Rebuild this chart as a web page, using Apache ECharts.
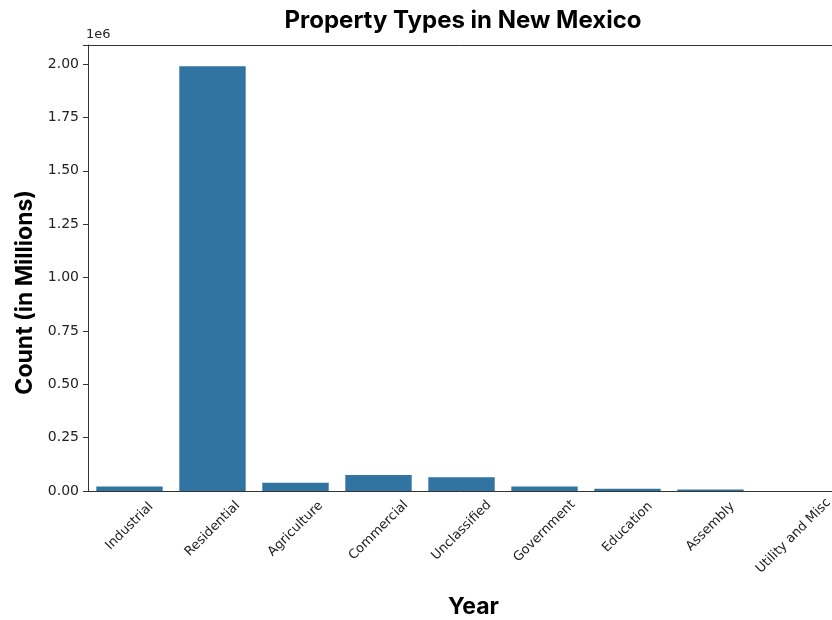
<!DOCTYPE html>
<html>
<head>
<meta charset="utf-8">
<script src="https://cdn.jsdelivr.net/npm/echarts@6/dist/echarts.min.js"></script>
<style>
  html, body { margin: 0; padding: 0; background: #fff; }
  #main { width: 832px; height: 620px; }
</style>
</head>
<body>
<div id="main"></div>
<script>
// property types and counts
var categories = ['Industrial', 'Residential', 'Agriculture', 'Commercial', 'Unclassified',
	'Government', 'Education', 'Assembly', 'Utility and Misc'];
var counts = [21000, 1990000, 39000, 75000, 64000, 21000, 11000, 6500, 500];
var yTicks = [0, 250000, 500000, 750000, 1000000, 1250000, 1500000, 1750000, 2000000];

var labelFont = '13px "DejaVu Sans"';

// matplotlib centres each rotated tick label under its tick; echarts anchors the
// label end, so push each label down/left with padding worked out from its width
function labelPads() {
	var ctx = document.createElement('canvas').getContext('2d');
	ctx.font = labelFont;
	var rich = {};
	for (var i = 0; i < categories.length; i++) {
		var w = ctx.measureText(categories[i]).width;
		var d = 10 + 0.25 * w;
		var p = Math.SQRT2 * d;
		rich['p' + i] = { padding: [p, p, 0, 0], fontFamily: 'DejaVu Sans', fontSize: 13, color: '#222' };
	}
	return rich;
}

var chart = echarts.init(document.getElementById('main'));

var option = {
	backgroundColor: '#fff',
	animation: false,
	title: {
		text: 'Property Types in New Mexico',
		left: 458,
		textAlign: 'center',
		top: 4,
		textStyle: { fontFamily: 'Inter', fontWeight: 'bold', fontSize: 24, color: '#000' }
	},
	grid: { left: 88, top: 45, right: -3, bottom: 129, containLabel: false, outerBoundsMode: 'none' },
	xAxis: [{
		type: 'category',
		data: categories,
		name: 'Year',
		nameLocation: 'middle',
		nameGap: 105,
		nameTextStyle: { fontFamily: 'Inter', fontWeight: 'bold', fontSize: 23, color: '#000', padding: [0, 0, 0, 24] },
		axisLine: { lineStyle: { color: '#333', width: 1 } },
		axisTick: { alignWithLabel: true, length: 4, lineStyle: { color: '#333' } },
		axisLabel: {
			rotate: 45, interval: 0, margin: 10,
			align: 'center', verticalAlign: 'middle',
			formatter: function (v, i) {
				return '{p' + i + '|' + v + '}';
			},
			rich: labelPads()
		}
	}, {
		type: 'category',
		position: 'top',
		data: categories,
		axisLine: { show: true, lineStyle: { color: '#333', width: 1 } },
		axisTick: { show: false },
		axisLabel: { show: false }
	}],
	yAxis: {
		type: 'value',
		min: 0,
		max: 2089000,
		interval: 250000,
		name: '1e6',
		nameLocation: 'end',
		nameGap: 4,
		nameTextStyle: { fontFamily: 'DejaVu Sans', fontSize: 13, color: '#222', align: 'left', padding: [0, 0, 0, -2] },
		splitLine: { show: false },
		axisLine: { show: true, lineStyle: { color: '#333', width: 1 } },
		axisTick: { show: true, length: 5, lineStyle: { color: '#333' } },
		axisLabel: {
			fontFamily: 'DejaVu Sans', fontSize: 14, color: '#222', margin: 9,
			formatter: function (v) {
				return yTicks.indexOf(v) >= 0 ? (v / 1e6).toFixed(2) : '';
			}
		}
	},
	graphic: [{
		type: 'text',
		left: 14,
		top: 190,
		rotation: Math.PI / 2,
		originX: 0,
		style: {
			text: 'Count (in Millions)',
			x: 0, y: 0,
			align: 'center',
			verticalAlign: 'middle',
			fontFamily: 'Inter', fontWeight: 'bold', fontSize: 23, fill: '#000'
		}
	}],
	series: [{
		type: 'bar',
		data: counts,
		barCategoryGap: '20%',
		itemStyle: { color: '#3274a1' }
	}]
};

chart.setOption(option);
</script>
</body>
</html>
